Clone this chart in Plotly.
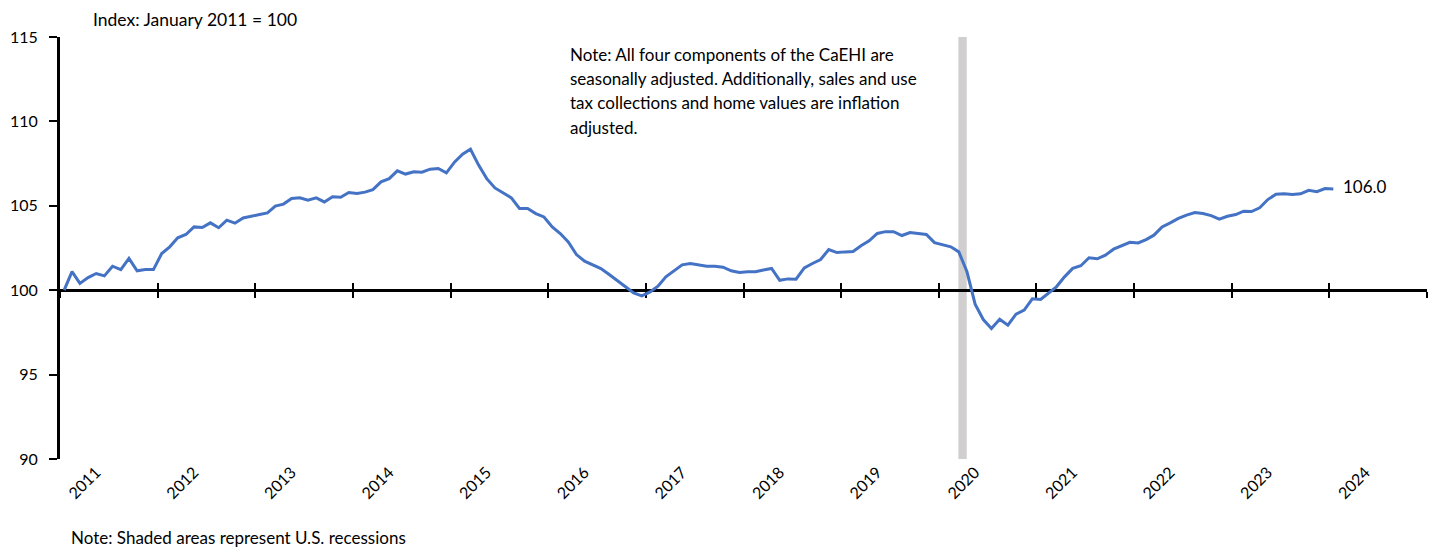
import pandas as pd
import plotly.graph_objects as go

# ---- data (monthly California Economic Health Index, Jan 2011 = 100) ----
start_month = "2011-01"
idx_2011 = [100.0, 101.1, 100.4, 100.75, 100.99, 100.85, 101.42, 101.22, 101.88, 101.15, 101.22, 101.22]
idx_2012 = [102.17, 102.57, 103.1, 103.3, 103.75, 103.71, 103.99, 103.70, 104.15, 103.97, 104.28, 104.36]
idx_2013 = [104.48, 104.58, 104.98, 105.1, 105.43, 105.47, 105.33, 105.47, 105.23, 105.53, 105.51, 105.79]
idx_2014 = [105.73, 105.81, 105.96, 106.42, 106.61, 107.07, 106.88, 107.01, 106.99, 107.17, 107.21, 106.95]
idx_2015 = [107.6, 108.06, 108.35, 107.41, 106.61, 106.06, 105.77, 105.47, 104.84, 104.84, 104.54, 104.34]
idx_2016 = [103.75, 103.36, 102.86, 102.11, 101.72, 101.48, 101.28, 100.93, 100.59, 100.2, 99.84, 99.66]
idx_2017 = [99.9, 100.24, 100.79, 101.13, 101.5, 101.58, 101.5, 101.42, 101.42, 101.36, 101.15, 101.05]
idx_2018 = [101.09, 101.09, 101.2, 101.29, 100.59, 100.67, 100.65, 101.32, 101.58, 101.82, 102.41, 102.23]
idx_2019 = [102.27, 102.29, 102.63, 102.92, 103.36, 103.47, 103.47, 103.24, 103.42, 103.34, 103.3, 102.82]
idx_2020 = [102.67, 102.57, 102.27, 101.09, 99.17, 98.26, 97.73, 98.28, 97.93, 98.58, 98.82, 99.49]
idx_2021 = [99.45, 99.84, 100.2, 100.79, 101.29, 101.45, 101.92, 101.86, 102.08, 102.43, 102.63, 102.84]
idx_2022 = [102.8, 103.0, 103.26, 103.75, 103.99, 104.25, 104.45, 104.6, 104.54, 104.42, 104.21, 104.38]
idx_2023 = [104.48, 104.68, 104.66, 104.88, 105.37, 105.69, 105.71, 105.67, 105.71, 105.92, 105.84, 106.02]
idx_2024 = [106.0]

years = list(range(2011, 2025))
year_labels = [str(y) for y in years]
y_ticks = [90, 95, 100, 105, 110, 115]
recession_start = "2020-03-15"
recession_end = "2020-04-15"
last_label = "106.0"

values = (idx_2011 + idx_2012 + idx_2013 + idx_2014 + idx_2015 + idx_2016 + idx_2017
          + idx_2018 + idx_2019 + idx_2020 + idx_2021 + idx_2022 + idx_2023 + idx_2024)

starts = pd.date_range(start_month + "-01", periods=len(values), freq="MS")
ends = starts + pd.offsets.MonthBegin(1)
mids = starts + (ends - starts) / 2

boundaries = [f"{y}-01-01" for y in years + [years[-1] + 1]]
label_pos = [f"{y}-05-16" for y in years]
x_range = [boundaries[0], boundaries[-1]]

FONT = "Lato"
BLUE = "#4472C4"
TOP_MARGIN = 29

fig = go.Figure()
fig.add_trace(go.Scatter(x=mids, y=values, mode="lines",
                         line=dict(color=BLUE, width=3), hoverinfo="x+y", showlegend=False))
# carriers for the crossing tick marks on the y=100 axis
for ax in ("x2", "x3"):
    fig.add_trace(go.Scatter(x=[mids[0]], y=[values[0]], xaxis=ax, mode="markers",
                             marker=dict(opacity=0), hoverinfo="skip", showlegend=False))

fig.add_vrect(x0=recession_start, x1=recession_end, fillcolor="#D0CECE",
              line_width=0, layer="below")

mid_axis = dict(type="date", overlaying="x", matches="x", anchor="free",
                position=(100 - y_ticks[0]) / (y_ticks[-1] - y_ticks[0]),
                showline=True, linecolor="black", linewidth=3,
                tickmode="array", tickvals=boundaries, ticklen=6, tickwidth=2,
                tickcolor="black", showticklabels=False, showgrid=False,
                zeroline=False, layer="below traces")

# page body has an 8px default margin: size the figure to fit the window
fig.update_layout(
    width=1421, height=542,
    margin=dict(l=47, r=2, t=TOP_MARGIN, b=91),
    plot_bgcolor="white", paper_bgcolor="white",
    font=dict(family=FONT, size=16, color="black"),
    showlegend=False,
    xaxis=dict(type="date", range=x_range, tickmode="array", tickvals=label_pos,
               ticktext=year_labels, tickangle=-45, showline=False, showgrid=False,
               zeroline=False, ticks="", tickfont=dict(size=16)),
    xaxis2=dict(mid_axis, ticks="outside"),
    xaxis3=dict(mid_axis, ticks="inside"),
    yaxis=dict(range=[y_ticks[0], y_ticks[-1]], tickmode="array", tickvals=y_ticks,
               showline=True, linecolor="black", linewidth=3, ticks="outside",
               ticklen=8, tickwidth=2, tickcolor="black", showgrid=False,
               zeroline=False, ticklabelstandoff=8, tickfont=dict(size=16)),
)

fig.add_annotation(text="Index: January 2011 = 100", xref="paper", yref="paper",
                   x=(87 - 55) / 1372, y=1 + (TOP_MARGIN - 0.5) / 422,
                   xanchor="left", yanchor="top", borderpad=0,
                   showarrow=False, font=dict(size=17.5))

note_lines = ["Note: All four components of the CaEHI are",
              "seasonally adjusted. Additionally, sales and use",
              "tax collections and home values are inflation",
              "adjusted."]
for i, line in enumerate(note_lines):
    fig.add_annotation(text=line, xref="paper", yref="paper",
                       x=(565 - 55) / 1372, y=1 - (17 + 24.4 * i) / 422,
                       xanchor="left", yanchor="middle", showarrow=False,
                       font=dict(size=17))

fig.add_annotation(text=last_label, x=mids[-1], y=values[-1], xanchor="left",
                   yanchor="middle", xshift=8, yshift=2, showarrow=False,
                   font=dict(size=17))

fig.add_annotation(text="Note: Shaded areas represent U.S. recessions", xref="paper",
                   yref="paper", x=(64 - 55) / 1372, y=-78 / 422, xanchor="left",
                   yanchor="middle", showarrow=False, font=dict(size=17))

fig.write_html("out.html")
